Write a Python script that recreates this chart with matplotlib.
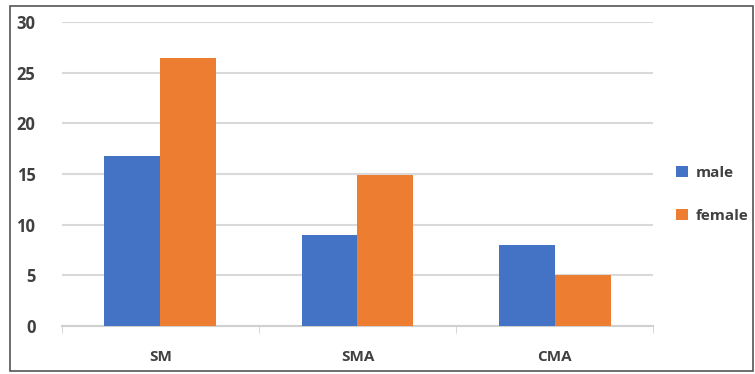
import matplotlib
matplotlib.use('Agg')
import matplotlib.pyplot as plt
import numpy as np
from matplotlib.patches import Rectangle

categories = ['SM', 'SMA', 'CMA']
male = [16.8, 9.0, 8.0]
female = [26.5, 14.9, 5.0]
yticks = [0, 5, 10, 15, 20, 25, 30]

blue = '#4472C4'
orange = '#ED7D31'
txt = '#404040'
plt.rcParams['font.family'] = ['Open Sans', 'DejaVu Sans']

fig = plt.figure(figsize=(7.55, 3.74), dpi=100)
ax = fig.add_axes([0.082, 0.128, 0.783, 0.813])

x = np.arange(len(categories))
w = 0.284
ax.bar(x - w / 2, male, w, color=blue, label='male', zorder=3)
ax.bar(x + w / 2, female, w, color=orange, label='female', zorder=3)

ax.set_xlim(-0.5, 2.5)
ax.set_ylim(0, 30)
ax.set_yticks(yticks)
ax.set_xticks(x)
ax.set_xticklabels(categories, fontsize=11, fontweight='bold', color=txt)
ax.set_xticks([-0.5, 0.5, 1.5, 2.5], minor=True)
ax.tick_params(axis='x', which='major', length=0, pad=17)
ax.tick_params(axis='x', which='minor', length=5, color='#d0d0d0')
ax.tick_params(axis='y', length=0, pad=19, labelsize=12, labelcolor=txt)
for lab in ax.get_yticklabels():
    lab.set_fontweight('bold')
ax.grid(axis='y', color='#d9d9d9', linewidth=1.5, zorder=0)
for s in ['top', 'right', 'left']:
    ax.spines[s].set_visible(False)
ax.spines['bottom'].set_color('#d0d0d0')
ax.spines['bottom'].set_linewidth(1.5)

leg = fig.legend(loc='upper left', bbox_to_anchor=(0.877, 0.594), frameon=False,
                 handlelength=0.8, handleheight=0.8, handletextpad=0.5,
                 labelspacing=1.9, prop={'size': 11, 'weight': 'bold'})
for t in leg.get_texts():
    t.set_color(txt)

fig.patches.append(Rectangle((0.013, 0.008), 0.984, 0.976, transform=fig.transFigure,
                             fill=False, edgecolor='#555555', linewidth=1.2))

fig.savefig('out.png', dpi=100)
